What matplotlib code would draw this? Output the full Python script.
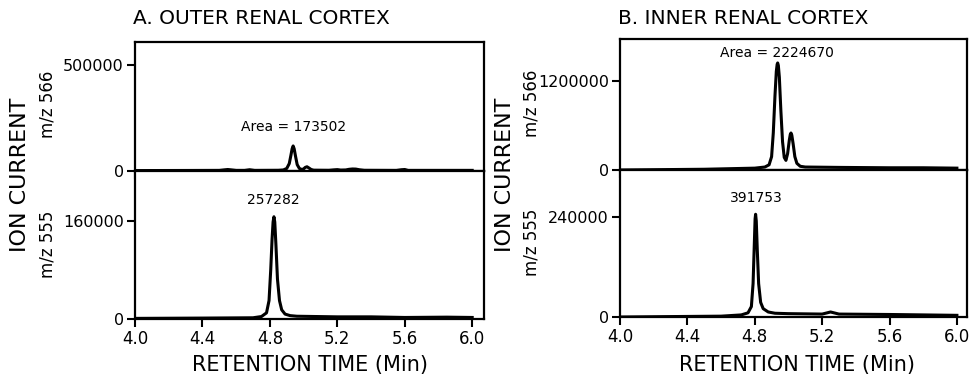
import matplotlib
matplotlib.use("Agg")
import matplotlib.pyplot as plt

# retention time (min) / ion current
# A. outer renal cortex, m/z 566
a566_t = [4.0, 4.30, 4.50, 4.53, 4.55, 4.57, 4.60, 4.65, 4.68, 4.71, 4.85, 4.88, 4.90, 4.915,
          4.925, 4.932, 4.938, 4.944, 4.952, 4.962, 4.975, 4.99, 5.0, 5.01, 5.02, 5.03,
          5.045, 5.06, 5.15, 5.18, 5.20, 5.22, 5.25, 5.27, 5.29, 5.31, 5.33, 5.36, 5.55,
          5.58, 5.60, 5.62, 5.9, 6.0]
a566_v = [2000, 2500, 3000, 5500, 7000, 5500, 3000, 3000, 6000, 3000, 3500, 5000, 12000,
          35000, 75000, 105000, 118000, 105000, 70000, 30000, 12000, 7000, 10000, 17000,
          20000, 15000, 7000, 4000, 3500, 5500, 6500, 4500, 5000, 8000, 9500, 9000, 6000,
          3500, 3000, 6000, 7000, 3000, 3000, 3000]
# A. outer renal cortex, m/z 555
a555_t = [4.0, 4.40, 4.70, 4.75, 4.78, 4.795, 4.805, 4.813, 4.819, 4.824, 4.829, 4.836,
          4.845, 4.857, 4.87, 4.89, 4.92, 4.96, 5.20, 5.40, 5.60, 5.85, 6.0]
a555_v = [1000, 1500, 2000, 4000, 10000, 30000, 80000, 130000, 158000, 166500, 158000,
          120000, 65000, 30000, 15000, 8000, 5500, 4500, 3500, 3500, 2500, 3000, 2500]
# B. inner renal cortex, m/z 566
b566_t = [4.0, 4.50, 4.80, 4.86, 4.885, 4.90, 4.91, 4.92, 4.928, 4.933, 4.936, 4.940,
          4.946, 4.955, 4.965, 4.975, 4.985, 4.995, 5.005, 5.011, 5.015, 5.020, 5.028,
          5.038, 5.05, 5.07, 5.10, 5.30, 5.60, 5.80, 6.0]
b566_v = [0, 10000, 25000, 40000, 70000, 180000, 500000, 1000000, 1330000, 1425000,
          1443000, 1410000, 1250000, 800000, 380000, 170000, 130000, 220000, 400000,
          480000, 499000, 470000, 350000, 180000, 90000, 50000, 40000, 35000, 30000,
          30000, 25000]
# B. inner renal cortex, m/z 555
b555_t = [4.0, 4.60, 4.72, 4.76, 4.78, 4.79, 4.797, 4.802, 4.805, 4.809, 4.815, 4.823,
          4.835, 4.85, 4.88, 4.92, 5.0, 5.20, 5.23, 5.25, 5.27, 5.30, 5.60, 6.0]
b555_v = [0, 2000, 5000, 10000, 25000, 80000, 170000, 235000, 246000, 230000, 160000,
          80000, 35000, 20000, 12000, 9000, 8000, 7000, 10000, 12000, 10000, 7000, 6000,
          4000]

panels = [
    dict(title="A. OUTER RENAL CORTEX", left=135, right=484,
         top=(42, 171, 608000, 500000, a566_t, a566_v, "Area = 173502", 4.94, 127, 104),
         bot=(171, 319, 241000, 160000, a555_t, a555_v, "257282", 4.82, 200, 244),
         ion_x=20, mz_x=48, xl_x=310, xmax=6.07),
    dict(title="B. INNER RENAL CORTEX", left=620, right=967,
         top=(39, 170, 1766000, 1200000, b566_t, b566_v, "Area = 2224670", 4.93, 53, 103),
         bot=(170, 317, 352000, 240000, b555_t, b555_v, "391753", 4.81, 198, 242),
         ion_x=505, mz_x=531, xl_x=797, xmax=6.06),
]

W, H = 970, 384
fig = plt.figure(figsize=(W / 100, H / 100), dpi=100)
plt.rcParams['font.family'] = 'DejaVu Sans'

for p in panels:
    l = p["left"] / W
    w = (p["right"] - p["left"]) / W
    for key, mz in (("top", "m/z 566"), ("bot", "m/z 555")):
        y0, y1, ymax, ytick, t, v, lab, lx, ly, mzy = p[key]
        ax = fig.add_axes([l, 1 - y1 / H, w, (y1 - y0) / H])
        ax.plot(t, v, color="black", lw=2.2, solid_joinstyle="round")
        ax.set_xlim(4.0, p["xmax"])
        ax.set_ylim(0, ymax)
        ax.set_xticks([4.0, 4.4, 4.8, 5.2, 5.6, 6.0])
        ax.set_yticks([0, ytick])
        ax.set_yticklabels(["0", str(ytick)], fontsize=11.5)
        ax.tick_params(direction="out", length=6, width=1.5, color="black", pad=2)
        if key == "top":
            ax.tick_params(axis="x", labelbottom=False)
        else:
            ax.set_xticklabels(["4.0", "4.4", "4.8", "5.2", "5.6", "6.0"], fontsize=12)
        for s in ax.spines.values():
            s.set_linewidth(1.6)
        ax.text(lx, ymax * (y1 - ly) / (y1 - y0), lab, ha="center", va="center", fontsize=10)
        fig.text(p["mz_x"] / W, 1 - mzy / H, mz, rotation=90, ha="center", va="center",
                 fontsize=12)
    fig.text(p["left"] / W - 0.002, 1 - 19 / H, p["title"], ha="left", va="center",
             fontsize=14.5)
    fig.text(p["ion_x"] / W, 1 - 175 / H, "ION CURRENT", rotation=90, ha="center",
             va="center", fontsize=16)
    fig.text(p["xl_x"] / W, 1 - 365 / H, "RETENTION TIME (Min)", ha="center", va="center",
             fontsize=15)

fig.savefig("out.png", dpi=100)
